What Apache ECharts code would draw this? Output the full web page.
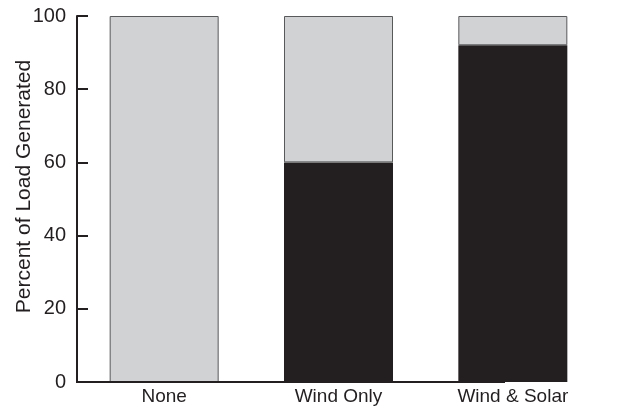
<!DOCTYPE html>
<html>
<head>
<meta charset="utf-8">
<script src="https://cdn.jsdelivr.net/npm/echarts@6/dist/echarts.min.js"></script>
<style>
html,body{margin:0;padding:0;background:#fff;}
#c{width:617px;height:410px;}
</style>
</head>
<body>
<div id="c"></div>
<script>
const categories = ['None', 'Wind Only', 'Wind & Solar'];
const generated = [0, 60, 92];
const notGenerated = [100, 40, 8];
const yTicks = [0, 20, 40, 60, 80, 100];

const chart = echarts.init(document.getElementById('c'), null, {renderer: 'canvas'});
const FONT = 'Liberation Sans, Arial, Helvetica, sans-serif';
const INK = '#231f20';
chart.setOption({
  animation: false,
  grid: {left: 77, right: 17, top: 16, bottom: 28, containLabel: false, outerBoundsMode: 'none'},
  xAxis: {
    type: 'category',
    data: categories,
    axisLine: {show: false},
    axisTick: {show: false},
    axisLabel: {color: INK, fontSize: 19, fontFamily: FONT, margin: 5}
  },
  yAxis: {
    type: 'value',
    min: yTicks[0],
    max: yTicks[yTicks.length - 1],
    interval: 20,
    name: 'Percent of Load Generated',
    nameLocation: 'middle',
    nameGap: 42,
    nameMoveOverlap: false,
    nameTextStyle: {color: INK, fontSize: 21, fontFamily: FONT, padding: [0, 0, 0, 25]},
    axisLine: {show: true, lineStyle: {color: INK, width: 2}},
    axisTick: {show: true, inside: true, length: 11, lineStyle: {color: INK, width: 2}},
    axisLabel: {color: INK, fontSize: 20, fontFamily: FONT, margin: 11},
    splitLine: {show: false}
  },
  series: [
    {
      type: 'bar', stack: 's', data: generated, barWidth: 109,
      itemStyle: {color: INK, borderColor: INK, borderWidth: 0}
    },
    {
      type: 'bar', stack: 's', data: notGenerated, barWidth: 109,
      itemStyle: {color: '#d1d2d4', borderColor: '#58595b', borderWidth: 1}
    }
  ]
});
const y0 = chart.convertToPixel({yAxisIndex: 0}, 0);
chart.setOption({
  graphic: [{
    type: 'line', silent: true, z: 10,
    shape: {x1: 76, y1: y0, x2: 505, y2: y0},
    style: {stroke: INK, lineWidth: 2}
  }]
});
</script>
</body>
</html>
